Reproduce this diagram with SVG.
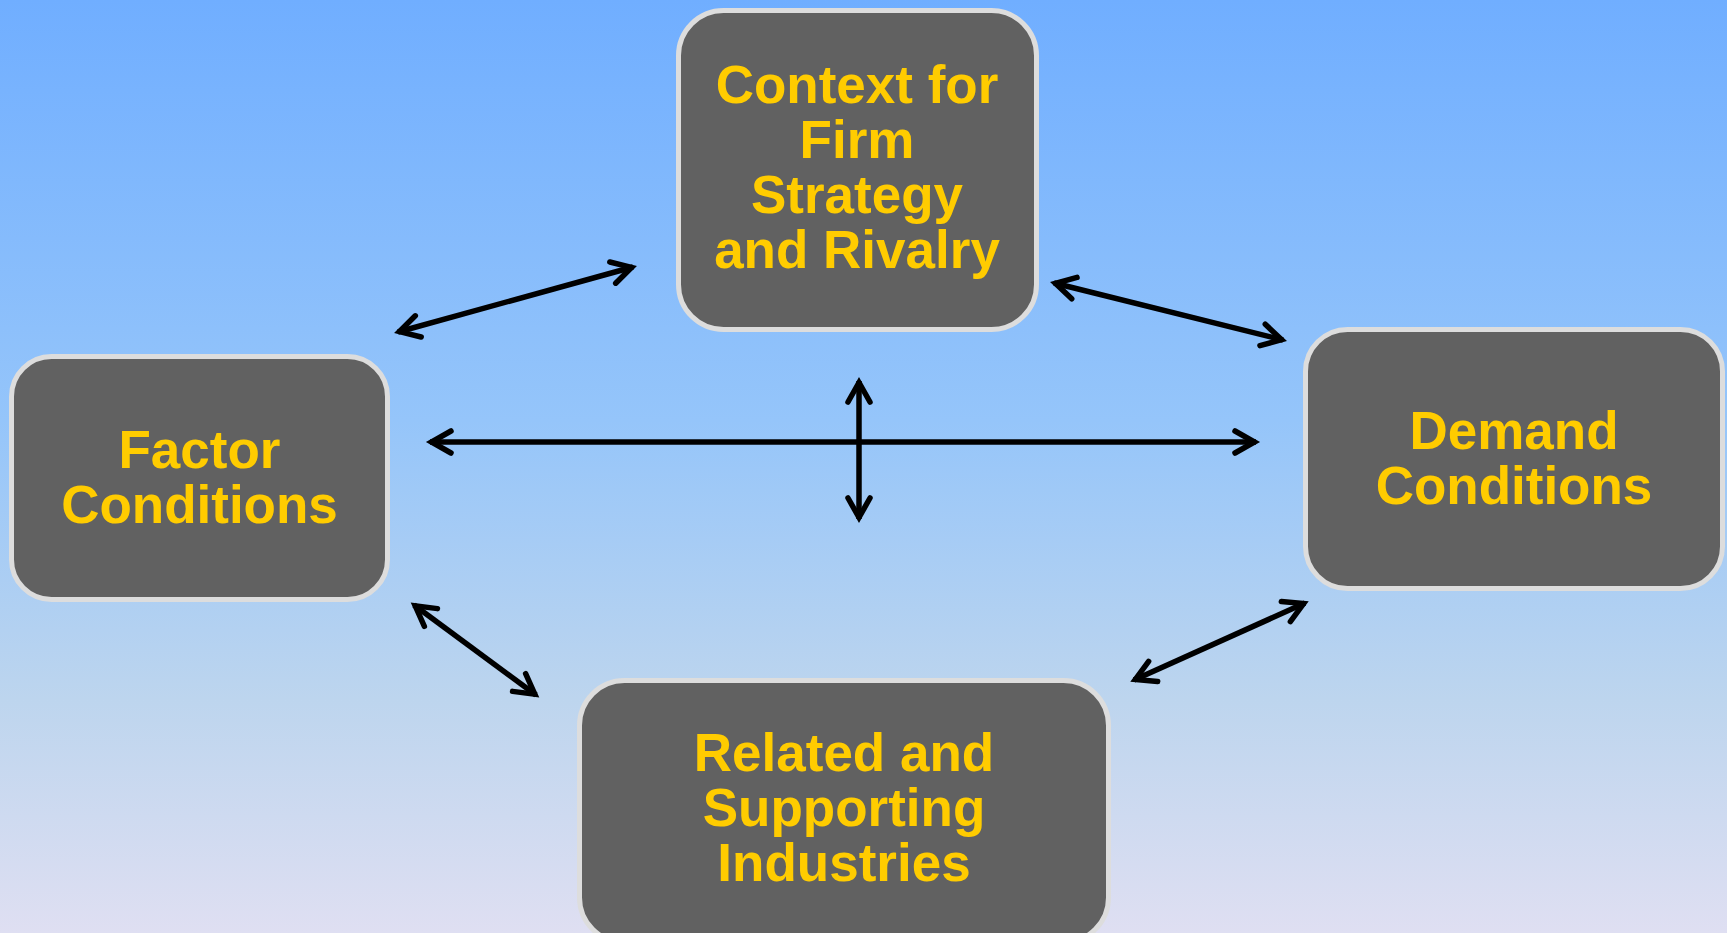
<svg xmlns="http://www.w3.org/2000/svg" width="1727" height="933" viewBox="0 0 1727 933">
  <defs>
    <linearGradient id="bg" x1="0" y1="0" x2="0" y2="1">
      <stop offset="0" stop-color="#70AEFF"/>
      <stop offset="0.45" stop-color="#95C5FA"/>
      <stop offset="0.75" stop-color="#BDD5EE"/>
      <stop offset="1" stop-color="#DFDFF2"/>
    </linearGradient>
    <marker id="ah" markerUnits="userSpaceOnUse" markerWidth="40" markerHeight="40" viewBox="-30 -20 40 40" refX="0" refY="0" orient="auto-start-reverse" overflow="visible">
      <path d="M -21 -11 L -1.5 0 L -21 11" fill="none" stroke="#000" stroke-width="5.5" stroke-linecap="round" stroke-linejoin="miter"/>
    </marker>
    <style>
      .box { fill: #616161; stroke: #DDDDDD; stroke-width: 5; }
      .lbl { font-family: "Liberation Sans", Arial, sans-serif; font-weight: bold; font-size: 53px; fill: #FFCC00; text-anchor: middle; }
      .conn { stroke: #000; stroke-width: 5.5; fill: none; marker-start: url(#ah); marker-end: url(#ah); }
    </style>
  </defs>
  <rect x="0" y="0" width="1727" height="933" fill="url(#bg)"/>

  <g id="connectors">
    <line class="conn" x1="398" y1="332" x2="633" y2="267"/>
    <line class="conn" x1="1054" y1="283" x2="1283" y2="340"/>
    <line class="conn" x1="430" y1="442" x2="1256" y2="442"/>
    <line class="conn" x1="859" y1="381" x2="859" y2="519"/>
    <line class="conn" x1="414" y1="605" x2="536" y2="695"/>
    <line class="conn" x1="1305" y1="603" x2="1134" y2="680"/>
  </g>

  <g id="context">
    <rect class="box" x="678.5" y="10.5" width="358" height="319" rx="45" ry="45"/>
    <text class="lbl" x="857" y="103">Context for</text>
    <text class="lbl" x="857" y="158">Firm</text>
    <text class="lbl" x="857" y="213">Strategy</text>
    <text class="lbl" x="857" y="268">and Rivalry</text>
  </g>

  <g id="factor">
    <rect class="box" x="11.5" y="356.5" width="376" height="243" rx="40" ry="40"/>
    <text class="lbl" x="199.5" y="468">Factor</text>
    <text class="lbl" x="199.5" y="523">Conditions</text>
  </g>

  <g id="demand">
    <rect class="box" x="1305.5" y="329.5" width="417" height="259" rx="42" ry="42"/>
    <text class="lbl" x="1514" y="449">Demand</text>
    <text class="lbl" x="1514" y="504">Conditions</text>
  </g>

  <g id="related">
    <rect class="box" x="579.5" y="680.5" width="529" height="262" rx="45" ry="45"/>
    <text class="lbl" x="844" y="771">Related and</text>
    <text class="lbl" x="844" y="826">Supporting</text>
    <text class="lbl" x="844" y="881">Industries</text>
  </g>
</svg>
